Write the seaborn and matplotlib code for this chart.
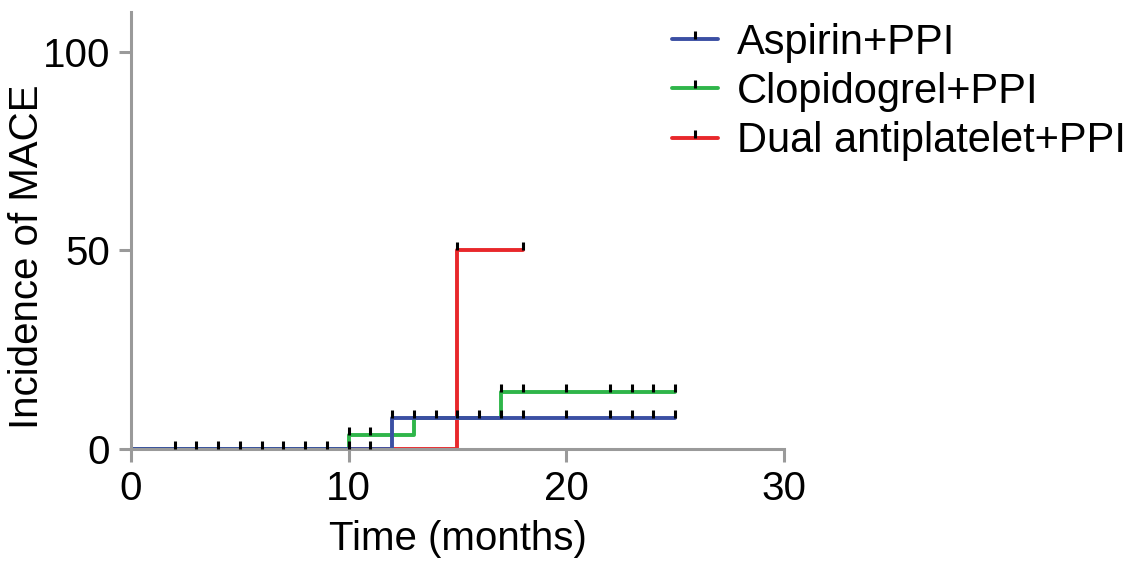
import numpy as np
import pandas as pd
import matplotlib
matplotlib.use('Agg')
import matplotlib.pyplot as plt
from matplotlib.path import Path
from matplotlib.lines import Line2D
import seaborn as sns

# step curves (time in months, incidence in %)
groups = ['Aspirin+PPI', 'Clopidogrel+PPI', 'Dual antiplatelet+PPI']
colors = ['#3b4fa3', '#2fb54a', '#e8282b']

aspirin_t = [0, 12, 25]
aspirin_y = [0, 7.7, 7.7]
clopi_t = [0, 10, 13, 17, 25]
clopi_y = [0, 3.4, 7.7, 14.3, 14.3]
dual_t = [0, 15, 18]
dual_y = [0, 50, 50]

# censored observations
aspirin_cens = [2, 3, 4, 5, 6, 7, 8, 9, 10, 11, 12, 13, 14, 15, 16, 17, 18, 20, 22, 23, 24, 25]
clopi_cens = [10, 11, 17, 18, 20, 22, 23, 24, 25]
dual_cens = [15, 18]

curves = {
    'Aspirin+PPI': (aspirin_t, aspirin_y, aspirin_cens),
    'Clopidogrel+PPI': (clopi_t, clopi_y, clopi_cens),
    'Dual antiplatelet+PPI': (dual_t, dual_y, dual_cens),
}

rows = []
for g, (t, y, c) in curves.items():
    for ti, yi in zip(t, y):
        rows.append((g, ti, yi))
df = pd.DataFrame(rows, columns=['group', 'time', 'inc'])

def step_at(t, y, x):
    i = np.searchsorted(t, x, side='right') - 1
    return np.asarray(y)[i]

sns.set_style('ticks')
plt.rcParams['font.family'] = ['Liberation Sans', 'DejaVu Sans']
plt.rcParams['text.color'] = 'black'
plt.rcParams['axes.labelcolor'] = 'black'
plt.rcParams['xtick.labelcolor'] = 'black'
plt.rcParams['ytick.labelcolor'] = 'black'

fig = plt.figure(figsize=(11.45, 5.64), dpi=100)
ax = fig.add_axes([0.1144, 0.2039, 0.5703, 0.7748])

pal = dict(zip(groups, colors))
# draw red first, blue last so blue sits on top
sns.lineplot(data=df, x='time', y='inc', hue='group', hue_order=groups[::-1],
             palette=pal, drawstyle='steps-post', estimator=None, lw=2.8,
             legend=False, ax=ax)

tick = Path([(0, 0), (0, 1)])
for g in groups[::-1]:
    t, y, c = curves[g]
    cy = step_at(t, y, np.array(c))
    ax.plot(c, cy, ls='none', marker=tick, ms=12, mec='black', mew=2.2, zorder=5)

ax.set_xlim(0, 30)
ax.set_ylim(0, 110)
ax.set_xticks([0, 10, 20, 30])
ax.set_yticks([0, 50, 100])
ax.set_xlabel('Time (months)', fontsize=29, labelpad=9)
ax.set_ylabel('Incidence of MACE', fontsize=29)
ax.yaxis.set_label_coords(-0.13, 0.44)
ax.tick_params(labelsize=29, length=9, width=2.2, color='#9a9a9a', pad=6)
for s in ['left', 'bottom']:
    ax.spines[s].set_color('#9a9a9a')
    ax.spines[s].set_linewidth(2.2)
sns.despine(ax=ax)

handles = [Line2D([], [], color=col, lw=2.8, marker=tick, ms=12, mec='black', mew=2.2)
           for col in colors]
fig.legend(handles, groups, loc='upper left', bbox_to_anchor=(0.567, 1.0),
           frameon=False, fontsize=30, handlelength=1.1, handletextpad=0.45,
           labelspacing=0.22, borderaxespad=0.15)

fig.savefig('out.png', dpi=100)
